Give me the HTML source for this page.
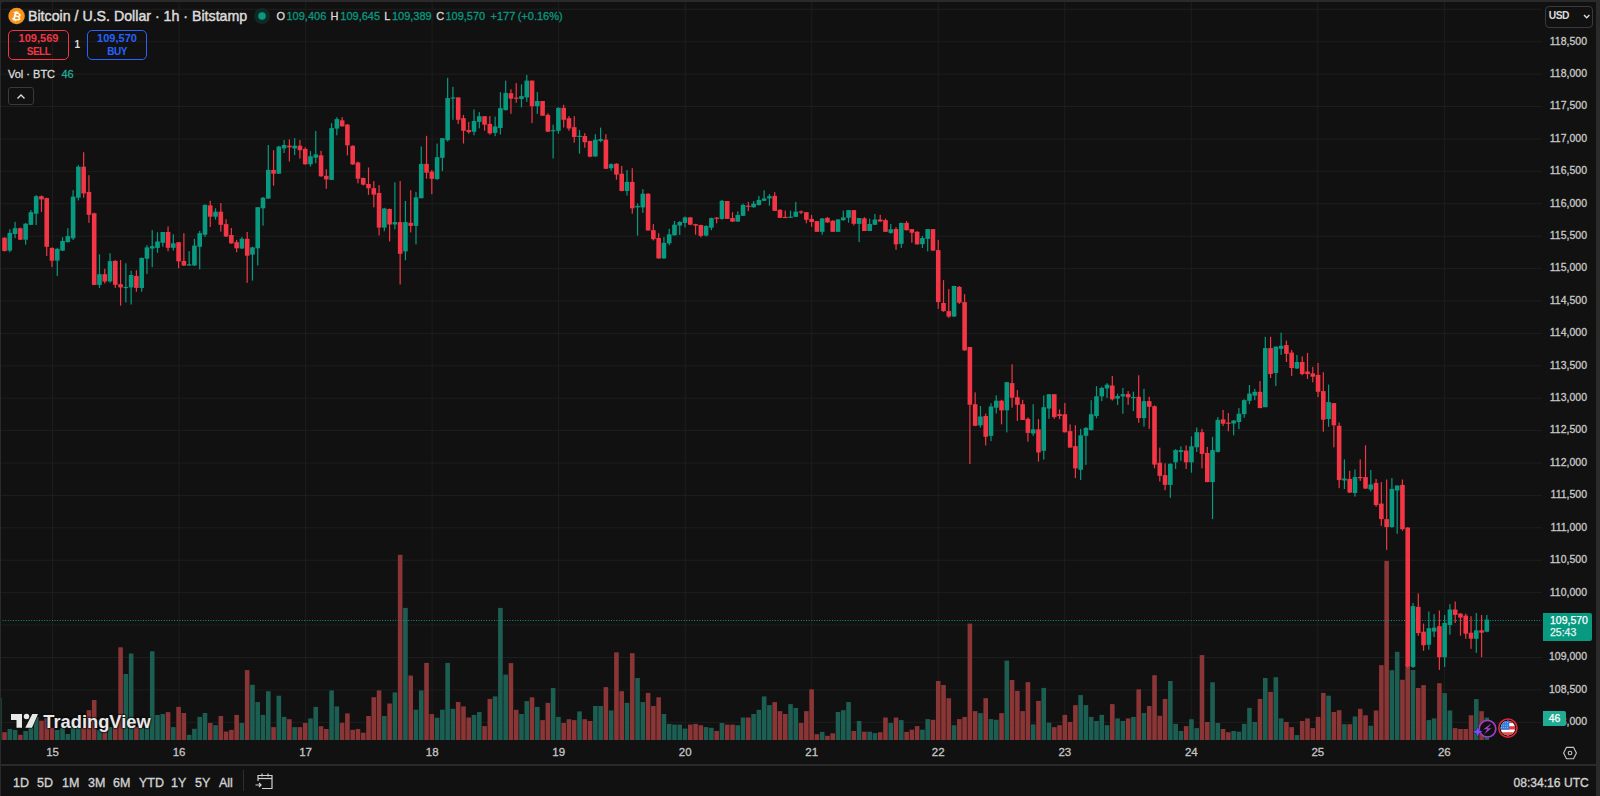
<!DOCTYPE html>
<html><head><meta charset="utf-8">
<style>
html,body{margin:0;padding:0;}
body{width:1600px;height:796px;overflow:hidden;background:#2a2a2a;position:relative;font-family:"Liberation Sans",Arial,sans-serif;}
#wrap{position:absolute;left:1px;top:2px;width:1595px;height:794px;background:#111111;border-radius:3px 3px 0 0;overflow:hidden;}
#chart{position:absolute;left:-1px;top:-2px;}
.abs{position:absolute;}
.pl{position:absolute;left:1545px;width:42px;text-align:right;font-size:10.5px;line-height:14px;color:#c8c8c8;-webkit-text-stroke:0.3px #c8c8c8;}
.tl{position:absolute;top:745.3px;-webkit-text-stroke:0.3px #c8c8c8;width:30px;text-align:center;font-size:11.5px;line-height:14px;color:#c3c3c3;}
#title{position:absolute;left:28px;top:7px;font-size:14.2px;line-height:18px;color:#dbdbdb;white-space:nowrap;-webkit-text-stroke:0.45px #dbdbdb;}
#ohlc{position:absolute;left:277px;top:9px;font-size:11px;line-height:14px;color:#dbdbdb;white-space:nowrap;letter-spacing:-0.15px;}
#ohlc .v{color:#089981;}
.tb{position:absolute;top:776px;font-size:12.5px;line-height:14px;color:#d1d1d1;-webkit-text-stroke:0.35px #d1d1d1;}
.o{position:absolute;top:9px;font-size:11px;line-height:14px;color:#dbdbdb;white-space:nowrap;-webkit-text-stroke:0.3px #dbdbdb;}
.o.v{color:#089981;-webkit-text-stroke:0.3px #089981;}
</style></head>
<body>
<div id="wrap"></div>
<svg id="chart" class="abs" width="1600" height="796" viewBox="0 0 1600 796" style="left:0;top:0">
<rect x="0" y="8.80" width="1542" height="1" fill="#1e1e1e"/>
<rect x="0" y="41.21" width="1542" height="1" fill="#1e1e1e"/>
<rect x="0" y="73.62" width="1542" height="1" fill="#1e1e1e"/>
<rect x="0" y="106.03" width="1542" height="1" fill="#1e1e1e"/>
<rect x="0" y="138.44" width="1542" height="1" fill="#1e1e1e"/>
<rect x="0" y="170.85" width="1542" height="1" fill="#1e1e1e"/>
<rect x="0" y="203.26" width="1542" height="1" fill="#1e1e1e"/>
<rect x="0" y="235.67" width="1542" height="1" fill="#1e1e1e"/>
<rect x="0" y="268.08" width="1542" height="1" fill="#1e1e1e"/>
<rect x="0" y="300.49" width="1542" height="1" fill="#1e1e1e"/>
<rect x="0" y="332.90" width="1542" height="1" fill="#1e1e1e"/>
<rect x="0" y="365.31" width="1542" height="1" fill="#1e1e1e"/>
<rect x="0" y="397.72" width="1542" height="1" fill="#1e1e1e"/>
<rect x="0" y="430.13" width="1542" height="1" fill="#1e1e1e"/>
<rect x="0" y="462.54" width="1542" height="1" fill="#1e1e1e"/>
<rect x="0" y="494.95" width="1542" height="1" fill="#1e1e1e"/>
<rect x="0" y="527.36" width="1542" height="1" fill="#1e1e1e"/>
<rect x="0" y="559.77" width="1542" height="1" fill="#1e1e1e"/>
<rect x="0" y="592.18" width="1542" height="1" fill="#1e1e1e"/>
<rect x="0" y="624.59" width="1542" height="1" fill="#1e1e1e"/>
<rect x="0" y="657.00" width="1542" height="1" fill="#1e1e1e"/>
<rect x="0" y="689.41" width="1542" height="1" fill="#1e1e1e"/>
<rect x="0" y="721.82" width="1542" height="1" fill="#1e1e1e"/>
<rect x="52.10" y="0" width="1" height="740" fill="#1e1e1e"/>
<rect x="178.62" y="0" width="1" height="740" fill="#1e1e1e"/>
<rect x="305.14" y="0" width="1" height="740" fill="#1e1e1e"/>
<rect x="431.66" y="0" width="1" height="740" fill="#1e1e1e"/>
<rect x="558.18" y="0" width="1" height="740" fill="#1e1e1e"/>
<rect x="684.70" y="0" width="1" height="740" fill="#1e1e1e"/>
<rect x="811.22" y="0" width="1" height="740" fill="#1e1e1e"/>
<rect x="937.74" y="0" width="1" height="740" fill="#1e1e1e"/>
<rect x="1064.26" y="0" width="1" height="740" fill="#1e1e1e"/>
<rect x="1190.78" y="0" width="1" height="740" fill="#1e1e1e"/>
<rect x="1317.30" y="0" width="1" height="740" fill="#1e1e1e"/>
<rect x="1443.82" y="0" width="1" height="740" fill="#1e1e1e"/>
<rect x="-3.05" y="698.0" width="4.6" height="42.0" fill="#1d5e53"/>
<rect x="2.22" y="732.2" width="4.6" height="7.8" fill="#8a3536"/>
<rect x="7.50" y="729.0" width="4.6" height="11.0" fill="#1d5e53"/>
<rect x="12.77" y="730.0" width="4.6" height="10.0" fill="#1d5e53"/>
<rect x="18.05" y="734.8" width="4.6" height="5.2" fill="#8a3536"/>
<rect x="23.32" y="731.0" width="4.6" height="9.0" fill="#1d5e53"/>
<rect x="28.60" y="728.0" width="4.6" height="12.0" fill="#1d5e53"/>
<rect x="33.87" y="717.0" width="4.6" height="23.0" fill="#1d5e53"/>
<rect x="39.15" y="720.7" width="4.6" height="19.3" fill="#8a3536"/>
<rect x="44.42" y="718.0" width="4.6" height="22.0" fill="#8a3536"/>
<rect x="49.70" y="728.0" width="4.6" height="12.0" fill="#8a3536"/>
<rect x="54.98" y="730.0" width="4.6" height="10.0" fill="#1d5e53"/>
<rect x="60.25" y="728.0" width="4.6" height="12.0" fill="#1d5e53"/>
<rect x="65.53" y="734.0" width="4.6" height="6.0" fill="#1d5e53"/>
<rect x="70.80" y="727.0" width="4.6" height="13.0" fill="#1d5e53"/>
<rect x="76.08" y="728.0" width="4.6" height="12.0" fill="#1d5e53"/>
<rect x="81.35" y="728.0" width="4.6" height="12.0" fill="#8a3536"/>
<rect x="86.63" y="710.2" width="4.6" height="29.8" fill="#8a3536"/>
<rect x="91.90" y="700.0" width="4.6" height="40.0" fill="#8a3536"/>
<rect x="97.18" y="730.0" width="4.6" height="10.0" fill="#1d5e53"/>
<rect x="102.45" y="731.6" width="4.6" height="8.4" fill="#8a3536"/>
<rect x="107.73" y="727.0" width="4.6" height="13.0" fill="#1d5e53"/>
<rect x="113.00" y="727.0" width="4.6" height="13.0" fill="#8a3536"/>
<rect x="118.28" y="647.3" width="4.6" height="92.7" fill="#8a3536"/>
<rect x="123.55" y="674.0" width="4.6" height="66.0" fill="#1d5e53"/>
<rect x="128.83" y="653.5" width="4.6" height="86.5" fill="#1d5e53"/>
<rect x="134.10" y="727.0" width="4.6" height="13.0" fill="#8a3536"/>
<rect x="139.38" y="728.0" width="4.6" height="12.0" fill="#1d5e53"/>
<rect x="144.65" y="728.0" width="4.6" height="12.0" fill="#1d5e53"/>
<rect x="149.93" y="651.3" width="4.6" height="88.7" fill="#1d5e53"/>
<rect x="155.20" y="715.0" width="4.6" height="25.0" fill="#1d5e53"/>
<rect x="160.48" y="714.0" width="4.6" height="26.0" fill="#1d5e53"/>
<rect x="165.75" y="712.1" width="4.6" height="27.9" fill="#8a3536"/>
<rect x="171.03" y="727.1" width="4.6" height="12.9" fill="#1d5e53"/>
<rect x="176.30" y="706.9" width="4.6" height="33.1" fill="#8a3536"/>
<rect x="181.58" y="713.0" width="4.6" height="27.0" fill="#8a3536"/>
<rect x="186.86" y="734.8" width="4.6" height="5.2" fill="#1d5e53"/>
<rect x="192.13" y="728.8" width="4.6" height="11.2" fill="#1d5e53"/>
<rect x="197.41" y="716.9" width="4.6" height="23.1" fill="#1d5e53"/>
<rect x="202.68" y="713.0" width="4.6" height="27.0" fill="#1d5e53"/>
<rect x="207.96" y="723.0" width="4.6" height="17.0" fill="#8a3536"/>
<rect x="213.23" y="725.2" width="4.6" height="14.8" fill="#1d5e53"/>
<rect x="218.51" y="716.0" width="4.6" height="24.0" fill="#8a3536"/>
<rect x="223.78" y="731.6" width="4.6" height="8.4" fill="#8a3536"/>
<rect x="229.06" y="729.9" width="4.6" height="10.1" fill="#8a3536"/>
<rect x="234.33" y="714.9" width="4.6" height="25.1" fill="#8a3536"/>
<rect x="239.61" y="723.0" width="4.6" height="17.0" fill="#1d5e53"/>
<rect x="244.88" y="670.1" width="4.6" height="69.9" fill="#8a3536"/>
<rect x="250.16" y="684.8" width="4.6" height="55.2" fill="#1d5e53"/>
<rect x="255.43" y="702.1" width="4.6" height="37.9" fill="#1d5e53"/>
<rect x="260.71" y="714.9" width="4.6" height="25.1" fill="#1d5e53"/>
<rect x="265.98" y="691.2" width="4.6" height="48.8" fill="#1d5e53"/>
<rect x="271.26" y="727.1" width="4.6" height="12.9" fill="#8a3536"/>
<rect x="276.53" y="695.7" width="4.6" height="44.3" fill="#1d5e53"/>
<rect x="281.81" y="716.9" width="4.6" height="23.1" fill="#1d5e53"/>
<rect x="287.08" y="719.2" width="4.6" height="20.8" fill="#8a3536"/>
<rect x="292.36" y="727.1" width="4.6" height="12.9" fill="#1d5e53"/>
<rect x="297.63" y="727.1" width="4.6" height="12.9" fill="#8a3536"/>
<rect x="302.91" y="723.0" width="4.6" height="17.0" fill="#8a3536"/>
<rect x="308.18" y="718.4" width="4.6" height="21.6" fill="#1d5e53"/>
<rect x="313.46" y="706.9" width="4.6" height="33.1" fill="#1d5e53"/>
<rect x="318.74" y="726.2" width="4.6" height="13.8" fill="#8a3536"/>
<rect x="324.01" y="729.0" width="4.6" height="11.0" fill="#8a3536"/>
<rect x="329.29" y="690.4" width="4.6" height="49.6" fill="#1d5e53"/>
<rect x="334.56" y="706.4" width="4.6" height="33.6" fill="#1d5e53"/>
<rect x="339.84" y="722.8" width="4.6" height="17.2" fill="#8a3536"/>
<rect x="345.11" y="713.4" width="4.6" height="26.6" fill="#8a3536"/>
<rect x="350.39" y="729.8" width="4.6" height="10.2" fill="#8a3536"/>
<rect x="355.66" y="729.0" width="4.6" height="11.0" fill="#8a3536"/>
<rect x="360.94" y="732.7" width="4.6" height="7.3" fill="#8a3536"/>
<rect x="366.21" y="716.0" width="4.6" height="24.0" fill="#8a3536"/>
<rect x="371.49" y="697.2" width="4.6" height="42.8" fill="#8a3536"/>
<rect x="376.76" y="690.4" width="4.6" height="49.6" fill="#8a3536"/>
<rect x="382.04" y="716.0" width="4.6" height="24.0" fill="#1d5e53"/>
<rect x="387.31" y="703.5" width="4.6" height="36.5" fill="#8a3536"/>
<rect x="392.59" y="692.4" width="4.6" height="47.6" fill="#1d5e53"/>
<rect x="397.86" y="554.8" width="4.6" height="185.2" fill="#8a3536"/>
<rect x="403.14" y="607.9" width="4.6" height="132.1" fill="#1d5e53"/>
<rect x="408.41" y="675.5" width="4.6" height="64.5" fill="#8a3536"/>
<rect x="413.69" y="709.7" width="4.6" height="30.3" fill="#1d5e53"/>
<rect x="418.96" y="690.4" width="4.6" height="49.6" fill="#1d5e53"/>
<rect x="424.24" y="662.9" width="4.6" height="77.1" fill="#8a3536"/>
<rect x="429.51" y="714.1" width="4.6" height="25.9" fill="#8a3536"/>
<rect x="434.79" y="717.7" width="4.6" height="22.3" fill="#1d5e53"/>
<rect x="440.06" y="709.7" width="4.6" height="30.3" fill="#1d5e53"/>
<rect x="445.34" y="662.9" width="4.6" height="77.1" fill="#1d5e53"/>
<rect x="450.62" y="708.8" width="4.6" height="31.2" fill="#1d5e53"/>
<rect x="455.89" y="702.0" width="4.6" height="38.0" fill="#8a3536"/>
<rect x="461.17" y="706.4" width="4.6" height="33.6" fill="#8a3536"/>
<rect x="466.44" y="717.5" width="4.6" height="22.5" fill="#8a3536"/>
<rect x="471.72" y="714.9" width="4.6" height="25.1" fill="#1d5e53"/>
<rect x="476.99" y="712.1" width="4.6" height="27.9" fill="#1d5e53"/>
<rect x="482.27" y="726.1" width="4.6" height="13.9" fill="#8a3536"/>
<rect x="487.54" y="698.9" width="4.6" height="41.1" fill="#8a3536"/>
<rect x="492.82" y="696.4" width="4.6" height="43.6" fill="#1d5e53"/>
<rect x="498.09" y="607.9" width="4.6" height="132.1" fill="#1d5e53"/>
<rect x="503.37" y="674.6" width="4.6" height="65.4" fill="#1d5e53"/>
<rect x="508.64" y="663.1" width="4.6" height="76.9" fill="#8a3536"/>
<rect x="513.92" y="709.8" width="4.6" height="30.2" fill="#8a3536"/>
<rect x="519.19" y="714.0" width="4.6" height="26.0" fill="#1d5e53"/>
<rect x="524.47" y="701.1" width="4.6" height="38.9" fill="#1d5e53"/>
<rect x="529.74" y="697.3" width="4.6" height="42.7" fill="#8a3536"/>
<rect x="535.02" y="706.9" width="4.6" height="33.1" fill="#1d5e53"/>
<rect x="540.29" y="720.1" width="4.6" height="19.9" fill="#8a3536"/>
<rect x="545.57" y="702.8" width="4.6" height="37.2" fill="#8a3536"/>
<rect x="550.84" y="688.0" width="4.6" height="52.0" fill="#1d5e53"/>
<rect x="556.12" y="716.9" width="4.6" height="23.1" fill="#1d5e53"/>
<rect x="561.39" y="723.0" width="4.6" height="17.0" fill="#8a3536"/>
<rect x="566.67" y="719.2" width="4.6" height="20.8" fill="#8a3536"/>
<rect x="571.94" y="720.1" width="4.6" height="19.9" fill="#8a3536"/>
<rect x="577.22" y="711.4" width="4.6" height="28.6" fill="#1d5e53"/>
<rect x="582.50" y="719.2" width="4.6" height="20.8" fill="#8a3536"/>
<rect x="587.77" y="721.0" width="4.6" height="19.0" fill="#8a3536"/>
<rect x="593.05" y="706.0" width="4.6" height="34.0" fill="#1d5e53"/>
<rect x="598.32" y="706.0" width="4.6" height="34.0" fill="#1d5e53"/>
<rect x="603.60" y="687.1" width="4.6" height="52.9" fill="#8a3536"/>
<rect x="608.87" y="710.5" width="4.6" height="29.5" fill="#1d5e53"/>
<rect x="614.15" y="652.4" width="4.6" height="87.6" fill="#8a3536"/>
<rect x="619.42" y="691.2" width="4.6" height="48.8" fill="#8a3536"/>
<rect x="624.70" y="702.8" width="4.6" height="37.2" fill="#1d5e53"/>
<rect x="629.97" y="653.2" width="4.6" height="86.8" fill="#8a3536"/>
<rect x="635.25" y="678.0" width="4.6" height="62.0" fill="#1d5e53"/>
<rect x="640.52" y="702.1" width="4.6" height="37.9" fill="#1d5e53"/>
<rect x="645.80" y="692.9" width="4.6" height="47.1" fill="#8a3536"/>
<rect x="651.07" y="706.0" width="4.6" height="34.0" fill="#8a3536"/>
<rect x="656.35" y="697.3" width="4.6" height="42.7" fill="#8a3536"/>
<rect x="661.62" y="714.0" width="4.6" height="26.0" fill="#1d5e53"/>
<rect x="666.90" y="723.9" width="4.6" height="16.1" fill="#1d5e53"/>
<rect x="672.17" y="724.6" width="4.6" height="15.4" fill="#1d5e53"/>
<rect x="677.45" y="724.6" width="4.6" height="15.4" fill="#1d5e53"/>
<rect x="682.72" y="728.6" width="4.6" height="11.4" fill="#1d5e53"/>
<rect x="688.00" y="724.6" width="4.6" height="15.4" fill="#8a3536"/>
<rect x="693.27" y="723.9" width="4.6" height="16.1" fill="#8a3536"/>
<rect x="698.55" y="725.2" width="4.6" height="14.8" fill="#8a3536"/>
<rect x="703.82" y="727.1" width="4.6" height="12.9" fill="#1d5e53"/>
<rect x="709.10" y="727.8" width="4.6" height="12.2" fill="#1d5e53"/>
<rect x="714.38" y="731.0" width="4.6" height="9.0" fill="#8a3536"/>
<rect x="719.65" y="723.0" width="4.6" height="17.0" fill="#1d5e53"/>
<rect x="724.93" y="724.6" width="4.6" height="15.4" fill="#8a3536"/>
<rect x="730.20" y="724.6" width="4.6" height="15.4" fill="#8a3536"/>
<rect x="735.48" y="725.2" width="4.6" height="14.8" fill="#1d5e53"/>
<rect x="740.75" y="717.5" width="4.6" height="22.5" fill="#1d5e53"/>
<rect x="746.03" y="717.5" width="4.6" height="22.5" fill="#8a3536"/>
<rect x="751.30" y="714.0" width="4.6" height="26.0" fill="#1d5e53"/>
<rect x="756.58" y="709.8" width="4.6" height="30.2" fill="#1d5e53"/>
<rect x="761.85" y="696.4" width="4.6" height="43.6" fill="#1d5e53"/>
<rect x="767.13" y="705.1" width="4.6" height="34.9" fill="#1d5e53"/>
<rect x="772.40" y="702.1" width="4.6" height="37.9" fill="#8a3536"/>
<rect x="777.68" y="711.1" width="4.6" height="28.9" fill="#8a3536"/>
<rect x="782.95" y="714.0" width="4.6" height="26.0" fill="#8a3536"/>
<rect x="788.23" y="704.1" width="4.6" height="35.9" fill="#1d5e53"/>
<rect x="793.50" y="707.9" width="4.6" height="32.1" fill="#1d5e53"/>
<rect x="798.78" y="723.0" width="4.6" height="17.0" fill="#8a3536"/>
<rect x="804.05" y="711.1" width="4.6" height="28.9" fill="#8a3536"/>
<rect x="809.33" y="689.3" width="4.6" height="50.7" fill="#8a3536"/>
<rect x="814.60" y="734.2" width="4.6" height="5.8" fill="#8a3536"/>
<rect x="819.88" y="731.9" width="4.6" height="8.1" fill="#1d5e53"/>
<rect x="825.15" y="735.8" width="4.6" height="4.2" fill="#8a3536"/>
<rect x="830.43" y="733.3" width="4.6" height="6.7" fill="#8a3536"/>
<rect x="835.70" y="712.0" width="4.6" height="28.0" fill="#1d5e53"/>
<rect x="840.98" y="710.2" width="4.6" height="29.8" fill="#1d5e53"/>
<rect x="846.26" y="702.1" width="4.6" height="37.9" fill="#1d5e53"/>
<rect x="851.53" y="731.0" width="4.6" height="9.0" fill="#8a3536"/>
<rect x="856.81" y="721.0" width="4.6" height="19.0" fill="#1d5e53"/>
<rect x="862.08" y="731.7" width="4.6" height="8.3" fill="#8a3536"/>
<rect x="867.36" y="731.7" width="4.6" height="8.3" fill="#1d5e53"/>
<rect x="872.63" y="733.1" width="4.6" height="6.9" fill="#1d5e53"/>
<rect x="877.91" y="732.2" width="4.6" height="7.8" fill="#8a3536"/>
<rect x="883.18" y="717.5" width="4.6" height="22.5" fill="#8a3536"/>
<rect x="888.46" y="723.0" width="4.6" height="17.0" fill="#1d5e53"/>
<rect x="893.73" y="717.5" width="4.6" height="22.5" fill="#8a3536"/>
<rect x="899.01" y="720.1" width="4.6" height="19.9" fill="#1d5e53"/>
<rect x="904.28" y="731.9" width="4.6" height="8.1" fill="#8a3536"/>
<rect x="909.56" y="729.7" width="4.6" height="10.3" fill="#8a3536"/>
<rect x="914.83" y="726.1" width="4.6" height="13.9" fill="#8a3536"/>
<rect x="920.11" y="729.7" width="4.6" height="10.3" fill="#1d5e53"/>
<rect x="925.38" y="719.1" width="4.6" height="20.9" fill="#1d5e53"/>
<rect x="930.66" y="719.8" width="4.6" height="20.2" fill="#8a3536"/>
<rect x="935.93" y="681.0" width="4.6" height="59.0" fill="#8a3536"/>
<rect x="941.21" y="685.0" width="4.6" height="55.0" fill="#8a3536"/>
<rect x="946.48" y="698.2" width="4.6" height="41.8" fill="#8a3536"/>
<rect x="951.76" y="725.2" width="4.6" height="14.8" fill="#1d5e53"/>
<rect x="957.03" y="719.1" width="4.6" height="20.9" fill="#8a3536"/>
<rect x="962.31" y="717.0" width="4.6" height="23.0" fill="#8a3536"/>
<rect x="967.58" y="623.6" width="4.6" height="116.4" fill="#8a3536"/>
<rect x="972.86" y="711.1" width="4.6" height="28.9" fill="#8a3536"/>
<rect x="978.14" y="713.1" width="4.6" height="26.9" fill="#1d5e53"/>
<rect x="983.41" y="698.2" width="4.6" height="41.8" fill="#8a3536"/>
<rect x="988.69" y="719.1" width="4.6" height="20.9" fill="#1d5e53"/>
<rect x="993.96" y="719.8" width="4.6" height="20.2" fill="#1d5e53"/>
<rect x="999.24" y="713.1" width="4.6" height="26.9" fill="#8a3536"/>
<rect x="1004.51" y="660.6" width="4.6" height="79.4" fill="#1d5e53"/>
<rect x="1009.79" y="680.0" width="4.6" height="60.0" fill="#8a3536"/>
<rect x="1015.06" y="690.9" width="4.6" height="49.1" fill="#8a3536"/>
<rect x="1020.34" y="711.1" width="4.6" height="28.9" fill="#8a3536"/>
<rect x="1025.61" y="682.1" width="4.6" height="57.9" fill="#8a3536"/>
<rect x="1030.89" y="724.4" width="4.6" height="15.6" fill="#1d5e53"/>
<rect x="1036.16" y="700.9" width="4.6" height="39.1" fill="#8a3536"/>
<rect x="1041.44" y="687.9" width="4.6" height="52.1" fill="#1d5e53"/>
<rect x="1046.71" y="722.7" width="4.6" height="17.3" fill="#1d5e53"/>
<rect x="1051.99" y="727.1" width="4.6" height="12.9" fill="#8a3536"/>
<rect x="1057.26" y="725.2" width="4.6" height="14.8" fill="#8a3536"/>
<rect x="1062.54" y="714.9" width="4.6" height="25.1" fill="#8a3536"/>
<rect x="1067.81" y="722.0" width="4.6" height="18.0" fill="#8a3536"/>
<rect x="1073.09" y="705.1" width="4.6" height="34.9" fill="#8a3536"/>
<rect x="1078.36" y="695.1" width="4.6" height="44.9" fill="#1d5e53"/>
<rect x="1083.64" y="705.1" width="4.6" height="34.9" fill="#1d5e53"/>
<rect x="1088.91" y="716.9" width="4.6" height="23.1" fill="#1d5e53"/>
<rect x="1094.19" y="721.0" width="4.6" height="19.0" fill="#1d5e53"/>
<rect x="1099.46" y="714.9" width="4.6" height="25.1" fill="#1d5e53"/>
<rect x="1104.74" y="725.2" width="4.6" height="14.8" fill="#1d5e53"/>
<rect x="1110.02" y="704.1" width="4.6" height="35.9" fill="#8a3536"/>
<rect x="1115.29" y="718.4" width="4.6" height="21.6" fill="#1d5e53"/>
<rect x="1120.57" y="721.0" width="4.6" height="19.0" fill="#1d5e53"/>
<rect x="1125.84" y="718.4" width="4.6" height="21.6" fill="#8a3536"/>
<rect x="1131.12" y="716.9" width="4.6" height="23.1" fill="#1d5e53"/>
<rect x="1136.39" y="689.3" width="4.6" height="50.7" fill="#8a3536"/>
<rect x="1141.67" y="713.0" width="4.6" height="27.0" fill="#1d5e53"/>
<rect x="1146.94" y="706.0" width="4.6" height="34.0" fill="#8a3536"/>
<rect x="1152.22" y="675.2" width="4.6" height="64.8" fill="#8a3536"/>
<rect x="1157.49" y="715.8" width="4.6" height="24.2" fill="#8a3536"/>
<rect x="1162.77" y="698.9" width="4.6" height="41.1" fill="#8a3536"/>
<rect x="1168.04" y="681.0" width="4.6" height="59.0" fill="#1d5e53"/>
<rect x="1173.32" y="723.9" width="4.6" height="16.1" fill="#1d5e53"/>
<rect x="1178.59" y="731.0" width="4.6" height="9.0" fill="#1d5e53"/>
<rect x="1183.87" y="726.1" width="4.6" height="13.9" fill="#8a3536"/>
<rect x="1189.14" y="719.2" width="4.6" height="20.8" fill="#1d5e53"/>
<rect x="1194.42" y="728.1" width="4.6" height="11.9" fill="#1d5e53"/>
<rect x="1199.69" y="655.1" width="4.6" height="84.9" fill="#8a3536"/>
<rect x="1204.97" y="722.0" width="4.6" height="18.0" fill="#8a3536"/>
<rect x="1210.24" y="682.3" width="4.6" height="57.7" fill="#1d5e53"/>
<rect x="1215.52" y="723.0" width="4.6" height="17.0" fill="#1d5e53"/>
<rect x="1220.79" y="729.0" width="4.6" height="11.0" fill="#8a3536"/>
<rect x="1226.07" y="732.2" width="4.6" height="7.8" fill="#8a3536"/>
<rect x="1231.34" y="731.0" width="4.6" height="9.0" fill="#1d5e53"/>
<rect x="1236.62" y="731.7" width="4.6" height="8.3" fill="#1d5e53"/>
<rect x="1241.90" y="723.9" width="4.6" height="16.1" fill="#1d5e53"/>
<rect x="1247.17" y="707.9" width="4.6" height="32.1" fill="#1d5e53"/>
<rect x="1252.45" y="722.0" width="4.6" height="18.0" fill="#1d5e53"/>
<rect x="1257.72" y="698.9" width="4.6" height="41.1" fill="#8a3536"/>
<rect x="1263.00" y="678.0" width="4.6" height="62.0" fill="#1d5e53"/>
<rect x="1268.27" y="691.9" width="4.6" height="48.1" fill="#8a3536"/>
<rect x="1273.55" y="677.2" width="4.6" height="62.8" fill="#1d5e53"/>
<rect x="1278.82" y="718.4" width="4.6" height="21.6" fill="#1d5e53"/>
<rect x="1284.10" y="722.0" width="4.6" height="18.0" fill="#8a3536"/>
<rect x="1289.37" y="727.1" width="4.6" height="12.9" fill="#8a3536"/>
<rect x="1294.65" y="735.1" width="4.6" height="4.9" fill="#1d5e53"/>
<rect x="1299.92" y="721.0" width="4.6" height="19.0" fill="#8a3536"/>
<rect x="1305.20" y="718.4" width="4.6" height="21.6" fill="#8a3536"/>
<rect x="1310.47" y="728.1" width="4.6" height="11.9" fill="#8a3536"/>
<rect x="1315.75" y="716.9" width="4.6" height="23.1" fill="#8a3536"/>
<rect x="1321.02" y="692.9" width="4.6" height="47.1" fill="#8a3536"/>
<rect x="1326.30" y="695.7" width="4.6" height="44.3" fill="#1d5e53"/>
<rect x="1331.57" y="712.0" width="4.6" height="28.0" fill="#8a3536"/>
<rect x="1336.85" y="710.2" width="4.6" height="29.8" fill="#8a3536"/>
<rect x="1342.12" y="724.2" width="4.6" height="15.8" fill="#1d5e53"/>
<rect x="1347.40" y="724.2" width="4.6" height="15.8" fill="#8a3536"/>
<rect x="1352.67" y="716.5" width="4.6" height="23.5" fill="#1d5e53"/>
<rect x="1357.95" y="708.8" width="4.6" height="31.2" fill="#8a3536"/>
<rect x="1363.22" y="715.3" width="4.6" height="24.7" fill="#8a3536"/>
<rect x="1368.50" y="725.7" width="4.6" height="14.3" fill="#1d5e53"/>
<rect x="1373.78" y="710.5" width="4.6" height="29.5" fill="#8a3536"/>
<rect x="1379.05" y="665.1" width="4.6" height="74.9" fill="#8a3536"/>
<rect x="1384.33" y="560.9" width="4.6" height="179.1" fill="#8a3536"/>
<rect x="1389.60" y="670.2" width="4.6" height="69.8" fill="#1d5e53"/>
<rect x="1394.88" y="651.8" width="4.6" height="88.2" fill="#1d5e53"/>
<rect x="1400.15" y="679.8" width="4.6" height="60.2" fill="#8a3536"/>
<rect x="1405.43" y="664.0" width="4.6" height="76.0" fill="#8a3536"/>
<rect x="1410.70" y="670.0" width="4.6" height="70.0" fill="#1d5e53"/>
<rect x="1415.98" y="688.0" width="4.6" height="52.0" fill="#8a3536"/>
<rect x="1421.25" y="685.1" width="4.6" height="54.9" fill="#8a3536"/>
<rect x="1426.53" y="720.1" width="4.6" height="19.9" fill="#1d5e53"/>
<rect x="1431.80" y="718.4" width="4.6" height="21.6" fill="#1d5e53"/>
<rect x="1437.08" y="683.2" width="4.6" height="56.8" fill="#8a3536"/>
<rect x="1442.35" y="693.1" width="4.6" height="46.9" fill="#1d5e53"/>
<rect x="1447.63" y="710.5" width="4.6" height="29.5" fill="#1d5e53"/>
<rect x="1452.90" y="728.1" width="4.6" height="11.9" fill="#8a3536"/>
<rect x="1458.18" y="729.0" width="4.6" height="11.0" fill="#8a3536"/>
<rect x="1463.45" y="729.0" width="4.6" height="11.0" fill="#8a3536"/>
<rect x="1468.73" y="715.3" width="4.6" height="24.7" fill="#8a3536"/>
<rect x="1474.00" y="699.1" width="4.6" height="40.9" fill="#1d5e53"/>
<rect x="1479.28" y="711.2" width="4.6" height="28.8" fill="#8a3536"/>
<rect x="1484.55" y="717.5" width="4.6" height="22.5" fill="#1d5e53"/>
<line x1="0" y1="620.5" x2="1542" y2="620.5" stroke="#089981" stroke-width="1" stroke-dasharray="1 1.6"/>
<rect x="3.92" y="237.2" width="1.2" height="14.3" fill="#f23645"/>
<rect x="2.22" y="237.8" width="4.6" height="13.2" fill="#f23645"/>
<rect x="9.20" y="229.3" width="1.2" height="22.9" fill="#089981"/>
<rect x="7.50" y="232.9" width="4.6" height="17.7" fill="#089981"/>
<rect x="14.47" y="221.8" width="1.2" height="16.4" fill="#089981"/>
<rect x="12.77" y="228.2" width="4.6" height="5.8" fill="#089981"/>
<rect x="19.75" y="227.6" width="1.2" height="12.4" fill="#f23645"/>
<rect x="18.05" y="228.2" width="4.6" height="11.5" fill="#f23645"/>
<rect x="25.02" y="222.9" width="1.2" height="21.8" fill="#089981"/>
<rect x="23.32" y="223.7" width="4.6" height="16.0" fill="#089981"/>
<rect x="30.30" y="210.1" width="1.2" height="15.0" fill="#089981"/>
<rect x="28.60" y="212.2" width="4.6" height="12.6" fill="#089981"/>
<rect x="35.57" y="195.1" width="1.2" height="29.9" fill="#089981"/>
<rect x="33.87" y="196.2" width="4.6" height="17.5" fill="#089981"/>
<rect x="40.85" y="195.5" width="1.2" height="16.4" fill="#f23645"/>
<rect x="39.15" y="196.2" width="4.6" height="3.2" fill="#f23645"/>
<rect x="46.12" y="197.7" width="1.2" height="58.3" fill="#f23645"/>
<rect x="44.42" y="198.1" width="4.6" height="48.7" fill="#f23645"/>
<rect x="51.40" y="247.4" width="1.2" height="19.7" fill="#f23645"/>
<rect x="49.70" y="247.9" width="4.6" height="12.8" fill="#f23645"/>
<rect x="56.68" y="247.9" width="1.2" height="28.2" fill="#089981"/>
<rect x="54.98" y="248.9" width="4.6" height="11.7" fill="#089981"/>
<rect x="61.95" y="237.2" width="1.2" height="13.9" fill="#089981"/>
<rect x="60.25" y="241.0" width="4.6" height="9.6" fill="#089981"/>
<rect x="67.23" y="228.2" width="1.2" height="14.3" fill="#089981"/>
<rect x="65.53" y="236.1" width="4.6" height="6.0" fill="#089981"/>
<rect x="72.50" y="190.2" width="1.2" height="49.8" fill="#089981"/>
<rect x="70.80" y="196.6" width="4.6" height="41.7" fill="#089981"/>
<rect x="77.78" y="165.2" width="1.2" height="35.2" fill="#089981"/>
<rect x="76.08" y="166.7" width="4.6" height="31.0" fill="#089981"/>
<rect x="83.05" y="152.2" width="1.2" height="45.5" fill="#f23645"/>
<rect x="81.35" y="166.7" width="4.6" height="26.7" fill="#f23645"/>
<rect x="88.33" y="175.2" width="1.2" height="47.6" fill="#f23645"/>
<rect x="86.63" y="191.9" width="4.6" height="22.9" fill="#f23645"/>
<rect x="93.60" y="212.6" width="1.2" height="72.6" fill="#f23645"/>
<rect x="91.90" y="213.3" width="4.6" height="71.6" fill="#f23645"/>
<rect x="98.88" y="254.3" width="1.2" height="33.8" fill="#089981"/>
<rect x="97.18" y="274.2" width="4.6" height="10.7" fill="#089981"/>
<rect x="104.15" y="268.8" width="1.2" height="14.7" fill="#f23645"/>
<rect x="102.45" y="274.2" width="4.6" height="7.3" fill="#f23645"/>
<rect x="109.43" y="253.2" width="1.2" height="29.5" fill="#089981"/>
<rect x="107.73" y="261.1" width="4.6" height="20.3" fill="#089981"/>
<rect x="114.70" y="260.1" width="1.2" height="27.8" fill="#f23645"/>
<rect x="113.00" y="260.9" width="4.6" height="23.9" fill="#f23645"/>
<rect x="119.98" y="260.1" width="1.2" height="45.5" fill="#f23645"/>
<rect x="118.28" y="284.2" width="4.6" height="3.2" fill="#f23645"/>
<rect x="125.25" y="263.3" width="1.2" height="39.1" fill="#089981"/>
<rect x="123.55" y="286.9" width="4.6" height="1.2" fill="#089981"/>
<rect x="130.53" y="270.7" width="1.2" height="33.8" fill="#089981"/>
<rect x="128.83" y="275.0" width="4.6" height="12.4" fill="#089981"/>
<rect x="135.80" y="270.3" width="1.2" height="21.4" fill="#f23645"/>
<rect x="134.10" y="275.9" width="4.6" height="12.0" fill="#f23645"/>
<rect x="141.08" y="257.5" width="1.2" height="34.2" fill="#089981"/>
<rect x="139.38" y="257.9" width="4.6" height="30.1" fill="#089981"/>
<rect x="146.35" y="245.1" width="1.2" height="28.8" fill="#089981"/>
<rect x="144.65" y="247.4" width="4.6" height="11.3" fill="#089981"/>
<rect x="151.63" y="230.1" width="1.2" height="37.0" fill="#089981"/>
<rect x="149.93" y="246.2" width="4.6" height="2.3" fill="#089981"/>
<rect x="156.90" y="232.3" width="1.2" height="20.5" fill="#089981"/>
<rect x="155.20" y="241.5" width="4.6" height="6.4" fill="#089981"/>
<rect x="162.18" y="232.0" width="1.2" height="14.7" fill="#089981"/>
<rect x="160.48" y="232.0" width="4.6" height="10.8" fill="#089981"/>
<rect x="167.45" y="226.4" width="1.2" height="24.9" fill="#f23645"/>
<rect x="165.75" y="232.0" width="4.6" height="15.8" fill="#f23645"/>
<rect x="172.73" y="234.3" width="1.2" height="16.3" fill="#089981"/>
<rect x="171.03" y="243.3" width="4.6" height="4.5" fill="#089981"/>
<rect x="178.00" y="242.2" width="1.2" height="26.0" fill="#f23645"/>
<rect x="176.30" y="242.2" width="4.6" height="19.2" fill="#f23645"/>
<rect x="183.28" y="233.2" width="1.2" height="32.8" fill="#f23645"/>
<rect x="181.58" y="261.0" width="4.6" height="4.5" fill="#f23645"/>
<rect x="188.56" y="251.2" width="1.2" height="14.7" fill="#089981"/>
<rect x="186.86" y="264.3" width="4.6" height="1.2" fill="#089981"/>
<rect x="193.83" y="238.8" width="1.2" height="27.1" fill="#089981"/>
<rect x="192.13" y="245.6" width="4.6" height="19.9" fill="#089981"/>
<rect x="199.11" y="230.9" width="1.2" height="38.4" fill="#089981"/>
<rect x="197.41" y="233.2" width="4.6" height="13.6" fill="#089981"/>
<rect x="204.38" y="204.5" width="1.2" height="32.5" fill="#089981"/>
<rect x="202.68" y="204.9" width="4.6" height="29.8" fill="#089981"/>
<rect x="209.66" y="200.8" width="1.2" height="26.2" fill="#f23645"/>
<rect x="207.96" y="205.4" width="4.6" height="11.3" fill="#f23645"/>
<rect x="214.93" y="208.3" width="1.2" height="11.3" fill="#089981"/>
<rect x="213.23" y="211.7" width="4.6" height="5.0" fill="#089981"/>
<rect x="220.21" y="203.1" width="1.2" height="28.5" fill="#f23645"/>
<rect x="218.51" y="211.7" width="4.6" height="13.1" fill="#f23645"/>
<rect x="225.48" y="219.2" width="1.2" height="17.9" fill="#f23645"/>
<rect x="223.78" y="224.1" width="4.6" height="12.4" fill="#f23645"/>
<rect x="230.76" y="228.0" width="1.2" height="15.8" fill="#f23645"/>
<rect x="229.06" y="235.0" width="4.6" height="8.4" fill="#f23645"/>
<rect x="236.03" y="239.9" width="1.2" height="12.4" fill="#f23645"/>
<rect x="234.33" y="242.2" width="4.6" height="6.1" fill="#f23645"/>
<rect x="241.31" y="237.0" width="1.2" height="12.0" fill="#089981"/>
<rect x="239.61" y="238.8" width="4.6" height="9.7" fill="#089981"/>
<rect x="246.58" y="232.0" width="1.2" height="50.8" fill="#f23645"/>
<rect x="244.88" y="238.8" width="4.6" height="16.9" fill="#f23645"/>
<rect x="251.86" y="246.7" width="1.2" height="33.9" fill="#089981"/>
<rect x="250.16" y="247.4" width="4.6" height="7.2" fill="#089981"/>
<rect x="257.13" y="207.2" width="1.2" height="58.3" fill="#089981"/>
<rect x="255.43" y="207.2" width="4.6" height="41.1" fill="#089981"/>
<rect x="262.41" y="197.0" width="1.2" height="28.7" fill="#089981"/>
<rect x="260.71" y="197.7" width="4.6" height="10.6" fill="#089981"/>
<rect x="267.68" y="145.0" width="1.2" height="53.6" fill="#089981"/>
<rect x="265.98" y="169.9" width="4.6" height="28.7" fill="#089981"/>
<rect x="272.96" y="150.2" width="1.2" height="35.5" fill="#f23645"/>
<rect x="271.26" y="169.9" width="4.6" height="3.8" fill="#f23645"/>
<rect x="278.23" y="145.7" width="1.2" height="28.0" fill="#089981"/>
<rect x="276.53" y="146.6" width="4.6" height="27.1" fill="#089981"/>
<rect x="283.51" y="140.1" width="1.2" height="12.9" fill="#089981"/>
<rect x="281.81" y="145.0" width="4.6" height="3.4" fill="#089981"/>
<rect x="288.78" y="139.4" width="1.2" height="22.1" fill="#f23645"/>
<rect x="287.08" y="145.7" width="4.6" height="1.6" fill="#f23645"/>
<rect x="294.06" y="138.2" width="1.2" height="16.9" fill="#089981"/>
<rect x="292.36" y="145.7" width="4.6" height="2.7" fill="#089981"/>
<rect x="299.33" y="140.1" width="1.2" height="18.5" fill="#f23645"/>
<rect x="297.63" y="145.7" width="4.6" height="4.5" fill="#f23645"/>
<rect x="304.61" y="147.3" width="1.2" height="17.4" fill="#f23645"/>
<rect x="302.91" y="148.9" width="4.6" height="15.4" fill="#f23645"/>
<rect x="309.88" y="151.1" width="1.2" height="15.4" fill="#089981"/>
<rect x="308.18" y="156.3" width="4.6" height="7.9" fill="#089981"/>
<rect x="315.16" y="131.0" width="1.2" height="32.2" fill="#089981"/>
<rect x="313.46" y="154.4" width="4.6" height="3.3" fill="#089981"/>
<rect x="320.44" y="150.8" width="1.2" height="26.0" fill="#f23645"/>
<rect x="318.74" y="155.3" width="4.6" height="21.0" fill="#f23645"/>
<rect x="325.71" y="169.2" width="1.2" height="19.6" fill="#f23645"/>
<rect x="324.01" y="175.8" width="4.6" height="3.6" fill="#f23645"/>
<rect x="330.99" y="123.1" width="1.2" height="56.8" fill="#089981"/>
<rect x="329.29" y="128.1" width="4.6" height="51.8" fill="#089981"/>
<rect x="336.26" y="117.2" width="1.2" height="18.1" fill="#089981"/>
<rect x="334.56" y="119.1" width="4.6" height="9.5" fill="#089981"/>
<rect x="341.54" y="117.2" width="1.2" height="9.5" fill="#f23645"/>
<rect x="339.84" y="120.3" width="4.6" height="6.0" fill="#f23645"/>
<rect x="346.81" y="123.9" width="1.2" height="31.5" fill="#f23645"/>
<rect x="345.11" y="124.6" width="4.6" height="20.7" fill="#f23645"/>
<rect x="352.09" y="145.3" width="1.2" height="19.6" fill="#f23645"/>
<rect x="350.39" y="145.8" width="4.6" height="18.6" fill="#f23645"/>
<rect x="357.36" y="161.5" width="1.2" height="21.9" fill="#f23645"/>
<rect x="355.66" y="162.5" width="4.6" height="16.2" fill="#f23645"/>
<rect x="362.64" y="177.5" width="1.2" height="7.9" fill="#f23645"/>
<rect x="360.94" y="178.0" width="4.6" height="6.7" fill="#f23645"/>
<rect x="367.91" y="167.5" width="1.2" height="27.4" fill="#f23645"/>
<rect x="366.21" y="184.0" width="4.6" height="4.3" fill="#f23645"/>
<rect x="373.19" y="181.1" width="1.2" height="26.2" fill="#f23645"/>
<rect x="371.49" y="188.2" width="4.6" height="6.4" fill="#f23645"/>
<rect x="378.46" y="185.1" width="1.2" height="50.3" fill="#f23645"/>
<rect x="376.76" y="193.0" width="4.6" height="34.6" fill="#f23645"/>
<rect x="383.74" y="207.8" width="1.2" height="23.4" fill="#089981"/>
<rect x="382.04" y="208.5" width="4.6" height="19.1" fill="#089981"/>
<rect x="389.01" y="208.5" width="1.2" height="32.9" fill="#f23645"/>
<rect x="387.31" y="209.0" width="4.6" height="15.5" fill="#f23645"/>
<rect x="394.29" y="182.3" width="1.2" height="47.0" fill="#089981"/>
<rect x="392.59" y="222.1" width="4.6" height="2.4" fill="#089981"/>
<rect x="399.56" y="181.1" width="1.2" height="103.3" fill="#f23645"/>
<rect x="397.86" y="222.1" width="4.6" height="31.7" fill="#f23645"/>
<rect x="404.84" y="200.9" width="1.2" height="59.4" fill="#089981"/>
<rect x="403.14" y="222.1" width="4.6" height="29.3" fill="#089981"/>
<rect x="410.11" y="190.2" width="1.2" height="42.2" fill="#f23645"/>
<rect x="408.41" y="222.8" width="4.6" height="3.1" fill="#f23645"/>
<rect x="415.39" y="191.8" width="1.2" height="52.5" fill="#089981"/>
<rect x="413.69" y="197.3" width="4.6" height="28.6" fill="#089981"/>
<rect x="420.66" y="146.5" width="1.2" height="51.8" fill="#089981"/>
<rect x="418.96" y="163.9" width="4.6" height="34.3" fill="#089981"/>
<rect x="425.94" y="135.8" width="1.2" height="42.9" fill="#f23645"/>
<rect x="424.24" y="163.9" width="4.6" height="8.8" fill="#f23645"/>
<rect x="431.21" y="169.9" width="1.2" height="24.3" fill="#f23645"/>
<rect x="429.51" y="171.6" width="4.6" height="7.2" fill="#f23645"/>
<rect x="436.49" y="143.6" width="1.2" height="36.3" fill="#089981"/>
<rect x="434.79" y="157.2" width="4.6" height="21.9" fill="#089981"/>
<rect x="441.76" y="138.2" width="1.2" height="32.9" fill="#089981"/>
<rect x="440.06" y="138.2" width="4.6" height="19.6" fill="#089981"/>
<rect x="447.04" y="77.8" width="1.2" height="63.7" fill="#089981"/>
<rect x="445.34" y="98.1" width="4.6" height="42.1" fill="#089981"/>
<rect x="452.32" y="86.8" width="1.2" height="33.0" fill="#089981"/>
<rect x="450.62" y="97.4" width="4.6" height="1.2" fill="#089981"/>
<rect x="457.59" y="97.4" width="1.2" height="26.5" fill="#f23645"/>
<rect x="455.89" y="97.4" width="4.6" height="22.4" fill="#f23645"/>
<rect x="462.87" y="114.9" width="1.2" height="28.6" fill="#f23645"/>
<rect x="461.17" y="118.2" width="4.6" height="12.6" fill="#f23645"/>
<rect x="468.14" y="121.9" width="1.2" height="11.8" fill="#f23645"/>
<rect x="466.44" y="130.1" width="4.6" height="2.0" fill="#f23645"/>
<rect x="473.42" y="109.5" width="1.2" height="25.8" fill="#089981"/>
<rect x="471.72" y="121.0" width="4.6" height="10.8" fill="#089981"/>
<rect x="478.69" y="112.1" width="1.2" height="16.3" fill="#089981"/>
<rect x="476.99" y="116.2" width="4.6" height="5.7" fill="#089981"/>
<rect x="483.97" y="116.2" width="1.2" height="14.5" fill="#f23645"/>
<rect x="482.27" y="116.2" width="4.6" height="8.5" fill="#f23645"/>
<rect x="489.24" y="116.1" width="1.2" height="18.5" fill="#f23645"/>
<rect x="487.54" y="123.9" width="4.6" height="9.5" fill="#f23645"/>
<rect x="494.52" y="116.6" width="1.2" height="19.6" fill="#089981"/>
<rect x="492.82" y="126.4" width="4.6" height="6.5" fill="#089981"/>
<rect x="499.79" y="92.1" width="1.2" height="42.5" fill="#089981"/>
<rect x="498.09" y="108.1" width="4.6" height="19.9" fill="#089981"/>
<rect x="505.07" y="80.6" width="1.2" height="29.9" fill="#089981"/>
<rect x="503.37" y="92.9" width="4.6" height="17.2" fill="#089981"/>
<rect x="510.34" y="89.3" width="1.2" height="24.5" fill="#f23645"/>
<rect x="508.64" y="93.2" width="4.6" height="5.4" fill="#f23645"/>
<rect x="515.62" y="83.1" width="1.2" height="19.6" fill="#f23645"/>
<rect x="513.92" y="97.6" width="4.6" height="1.2" fill="#f23645"/>
<rect x="520.89" y="84.4" width="1.2" height="22.9" fill="#089981"/>
<rect x="519.19" y="96.1" width="4.6" height="2.9" fill="#089981"/>
<rect x="526.17" y="74.9" width="1.2" height="27.0" fill="#089981"/>
<rect x="524.47" y="80.6" width="4.6" height="16.8" fill="#089981"/>
<rect x="531.44" y="80.6" width="1.2" height="42.5" fill="#f23645"/>
<rect x="529.74" y="80.6" width="4.6" height="25.6" fill="#f23645"/>
<rect x="536.72" y="92.1" width="1.2" height="21.7" fill="#089981"/>
<rect x="535.02" y="101.0" width="4.6" height="5.2" fill="#089981"/>
<rect x="541.99" y="101.0" width="1.2" height="15.0" fill="#f23645"/>
<rect x="540.29" y="101.0" width="4.6" height="14.7" fill="#f23645"/>
<rect x="547.27" y="113.3" width="1.2" height="18.8" fill="#f23645"/>
<rect x="545.57" y="114.9" width="4.6" height="16.8" fill="#f23645"/>
<rect x="552.54" y="124.7" width="1.2" height="33.8" fill="#089981"/>
<rect x="550.84" y="130.1" width="4.6" height="1.2" fill="#089981"/>
<rect x="557.82" y="107.2" width="1.2" height="26.5" fill="#089981"/>
<rect x="556.12" y="107.9" width="4.6" height="22.9" fill="#089981"/>
<rect x="563.09" y="104.8" width="1.2" height="22.7" fill="#f23645"/>
<rect x="561.39" y="107.9" width="4.6" height="11.9" fill="#f23645"/>
<rect x="568.37" y="116.1" width="1.2" height="14.7" fill="#f23645"/>
<rect x="566.67" y="118.2" width="4.6" height="10.3" fill="#f23645"/>
<rect x="573.64" y="116.2" width="1.2" height="26.5" fill="#f23645"/>
<rect x="571.94" y="127.2" width="4.6" height="9.8" fill="#f23645"/>
<rect x="578.92" y="130.0" width="1.2" height="23.7" fill="#089981"/>
<rect x="577.22" y="135.8" width="4.6" height="1.2" fill="#089981"/>
<rect x="584.20" y="133.1" width="1.2" height="14.6" fill="#f23645"/>
<rect x="582.50" y="136.0" width="4.6" height="6.2" fill="#f23645"/>
<rect x="589.47" y="140.9" width="1.2" height="16.4" fill="#f23645"/>
<rect x="587.77" y="140.9" width="4.6" height="15.8" fill="#f23645"/>
<rect x="594.75" y="134.2" width="1.2" height="22.6" fill="#089981"/>
<rect x="593.05" y="139.7" width="4.6" height="16.7" fill="#089981"/>
<rect x="600.02" y="127.6" width="1.2" height="14.6" fill="#089981"/>
<rect x="598.32" y="139.1" width="4.6" height="1.8" fill="#089981"/>
<rect x="605.30" y="134.2" width="1.2" height="34.6" fill="#f23645"/>
<rect x="603.60" y="139.7" width="4.6" height="29.1" fill="#f23645"/>
<rect x="610.57" y="163.3" width="1.2" height="7.3" fill="#089981"/>
<rect x="608.87" y="164.2" width="4.6" height="4.0" fill="#089981"/>
<rect x="615.85" y="163.3" width="1.2" height="16.4" fill="#f23645"/>
<rect x="614.15" y="163.7" width="4.6" height="10.9" fill="#f23645"/>
<rect x="621.12" y="165.9" width="1.2" height="25.5" fill="#f23645"/>
<rect x="619.42" y="173.7" width="4.6" height="17.3" fill="#f23645"/>
<rect x="626.40" y="170.1" width="1.2" height="25.5" fill="#089981"/>
<rect x="624.70" y="181.9" width="4.6" height="9.1" fill="#089981"/>
<rect x="631.67" y="168.2" width="1.2" height="45.5" fill="#f23645"/>
<rect x="629.97" y="181.9" width="4.6" height="26.4" fill="#f23645"/>
<rect x="636.95" y="203.4" width="1.2" height="32.2" fill="#089981"/>
<rect x="635.25" y="205.9" width="4.6" height="1.5" fill="#089981"/>
<rect x="642.22" y="189.2" width="1.2" height="23.7" fill="#089981"/>
<rect x="640.52" y="193.7" width="4.6" height="13.7" fill="#089981"/>
<rect x="647.50" y="193.2" width="1.2" height="37.3" fill="#f23645"/>
<rect x="645.80" y="193.7" width="4.6" height="36.8" fill="#f23645"/>
<rect x="652.77" y="224.1" width="1.2" height="16.4" fill="#f23645"/>
<rect x="651.07" y="230.1" width="4.6" height="9.1" fill="#f23645"/>
<rect x="658.05" y="233.2" width="1.2" height="25.5" fill="#f23645"/>
<rect x="656.35" y="238.0" width="4.6" height="20.4" fill="#f23645"/>
<rect x="663.32" y="237.1" width="1.2" height="21.7" fill="#089981"/>
<rect x="661.62" y="242.9" width="4.6" height="15.5" fill="#089981"/>
<rect x="668.60" y="228.9" width="1.2" height="16.4" fill="#089981"/>
<rect x="666.90" y="234.3" width="4.6" height="9.1" fill="#089981"/>
<rect x="673.87" y="221.0" width="1.2" height="14.6" fill="#089981"/>
<rect x="672.17" y="224.7" width="4.6" height="10.6" fill="#089981"/>
<rect x="679.15" y="221.0" width="1.2" height="14.0" fill="#089981"/>
<rect x="677.45" y="222.0" width="4.6" height="3.6" fill="#089981"/>
<rect x="684.42" y="216.5" width="1.2" height="10.9" fill="#089981"/>
<rect x="682.72" y="217.4" width="4.6" height="5.5" fill="#089981"/>
<rect x="689.70" y="216.9" width="1.2" height="8.4" fill="#f23645"/>
<rect x="688.00" y="217.4" width="4.6" height="7.3" fill="#f23645"/>
<rect x="694.97" y="223.8" width="1.2" height="10.9" fill="#f23645"/>
<rect x="693.27" y="224.1" width="4.6" height="1.5" fill="#f23645"/>
<rect x="700.25" y="224.7" width="1.2" height="12.7" fill="#f23645"/>
<rect x="698.55" y="225.0" width="4.6" height="10.9" fill="#f23645"/>
<rect x="705.52" y="225.2" width="1.2" height="11.3" fill="#089981"/>
<rect x="703.82" y="226.0" width="4.6" height="9.6" fill="#089981"/>
<rect x="710.80" y="217.6" width="1.2" height="12.7" fill="#089981"/>
<rect x="709.10" y="218.1" width="4.6" height="9.6" fill="#089981"/>
<rect x="716.08" y="217.2" width="1.2" height="6.1" fill="#f23645"/>
<rect x="714.38" y="217.6" width="4.6" height="1.2" fill="#f23645"/>
<rect x="721.35" y="199.9" width="1.2" height="19.9" fill="#089981"/>
<rect x="719.65" y="200.8" width="4.6" height="18.1" fill="#089981"/>
<rect x="726.63" y="201.0" width="1.2" height="17.9" fill="#f23645"/>
<rect x="724.93" y="201.0" width="4.6" height="17.9" fill="#f23645"/>
<rect x="731.90" y="212.2" width="1.2" height="9.6" fill="#f23645"/>
<rect x="730.20" y="218.1" width="4.6" height="3.5" fill="#f23645"/>
<rect x="737.18" y="211.3" width="1.2" height="10.5" fill="#089981"/>
<rect x="735.48" y="215.0" width="4.6" height="6.6" fill="#089981"/>
<rect x="742.45" y="203.6" width="1.2" height="12.4" fill="#089981"/>
<rect x="740.75" y="204.9" width="4.6" height="10.9" fill="#089981"/>
<rect x="747.73" y="201.9" width="1.2" height="9.2" fill="#f23645"/>
<rect x="746.03" y="205.7" width="4.6" height="1.2" fill="#f23645"/>
<rect x="753.00" y="201.0" width="1.2" height="6.6" fill="#089981"/>
<rect x="751.30" y="203.6" width="4.6" height="3.7" fill="#089981"/>
<rect x="758.28" y="195.9" width="1.2" height="9.6" fill="#089981"/>
<rect x="756.58" y="199.9" width="4.6" height="5.2" fill="#089981"/>
<rect x="763.55" y="190.3" width="1.2" height="10.7" fill="#089981"/>
<rect x="761.85" y="198.4" width="4.6" height="2.4" fill="#089981"/>
<rect x="768.83" y="194.0" width="1.2" height="11.8" fill="#089981"/>
<rect x="767.13" y="196.2" width="4.6" height="2.2" fill="#089981"/>
<rect x="774.10" y="192.1" width="1.2" height="19.0" fill="#f23645"/>
<rect x="772.40" y="195.8" width="4.6" height="15.1" fill="#f23645"/>
<rect x="779.38" y="209.3" width="1.2" height="8.8" fill="#f23645"/>
<rect x="777.68" y="209.8" width="4.6" height="8.1" fill="#f23645"/>
<rect x="784.65" y="210.6" width="1.2" height="7.2" fill="#f23645"/>
<rect x="782.95" y="216.9" width="4.6" height="1.2" fill="#f23645"/>
<rect x="789.93" y="210.6" width="1.2" height="7.2" fill="#089981"/>
<rect x="788.23" y="216.6" width="4.6" height="1.2" fill="#089981"/>
<rect x="795.20" y="201.9" width="1.2" height="15.1" fill="#089981"/>
<rect x="793.50" y="211.7" width="4.6" height="5.1" fill="#089981"/>
<rect x="800.48" y="210.6" width="1.2" height="3.5" fill="#f23645"/>
<rect x="798.78" y="211.4" width="4.6" height="1.2" fill="#f23645"/>
<rect x="805.75" y="212.2" width="1.2" height="11.1" fill="#f23645"/>
<rect x="804.05" y="212.2" width="4.6" height="7.6" fill="#f23645"/>
<rect x="811.03" y="215.0" width="1.2" height="11.8" fill="#f23645"/>
<rect x="809.33" y="218.9" width="4.6" height="3.1" fill="#f23645"/>
<rect x="816.30" y="220.9" width="1.2" height="11.1" fill="#f23645"/>
<rect x="814.60" y="221.1" width="4.6" height="10.7" fill="#f23645"/>
<rect x="821.58" y="218.1" width="1.2" height="16.6" fill="#089981"/>
<rect x="819.88" y="218.5" width="4.6" height="13.3" fill="#089981"/>
<rect x="826.85" y="217.2" width="1.2" height="5.7" fill="#f23645"/>
<rect x="825.15" y="217.8" width="4.6" height="4.6" fill="#f23645"/>
<rect x="832.13" y="220.2" width="1.2" height="11.8" fill="#f23645"/>
<rect x="830.43" y="220.7" width="4.6" height="11.1" fill="#f23645"/>
<rect x="837.40" y="219.2" width="1.2" height="12.9" fill="#089981"/>
<rect x="835.70" y="219.4" width="4.6" height="12.4" fill="#089981"/>
<rect x="842.68" y="210.6" width="1.2" height="10.1" fill="#089981"/>
<rect x="840.98" y="217.4" width="4.6" height="2.8" fill="#089981"/>
<rect x="847.96" y="210.1" width="1.2" height="12.6" fill="#089981"/>
<rect x="846.26" y="210.1" width="4.6" height="7.7" fill="#089981"/>
<rect x="853.23" y="210.1" width="1.2" height="15.4" fill="#f23645"/>
<rect x="851.53" y="210.1" width="4.6" height="13.7" fill="#f23645"/>
<rect x="858.51" y="218.0" width="1.2" height="24.0" fill="#089981"/>
<rect x="856.81" y="218.0" width="4.6" height="5.9" fill="#089981"/>
<rect x="863.78" y="217.1" width="1.2" height="13.9" fill="#f23645"/>
<rect x="862.08" y="218.4" width="4.6" height="12.6" fill="#f23645"/>
<rect x="869.06" y="218.6" width="1.2" height="12.4" fill="#089981"/>
<rect x="867.36" y="224.0" width="4.6" height="7.0" fill="#089981"/>
<rect x="874.33" y="214.0" width="1.2" height="10.9" fill="#089981"/>
<rect x="872.63" y="219.5" width="4.6" height="5.3" fill="#089981"/>
<rect x="879.61" y="214.8" width="1.2" height="6.8" fill="#f23645"/>
<rect x="877.91" y="219.5" width="4.6" height="2.0" fill="#f23645"/>
<rect x="884.88" y="218.6" width="1.2" height="13.4" fill="#f23645"/>
<rect x="883.18" y="220.1" width="4.6" height="11.7" fill="#f23645"/>
<rect x="890.16" y="224.0" width="1.2" height="9.8" fill="#089981"/>
<rect x="888.46" y="229.3" width="4.6" height="3.6" fill="#089981"/>
<rect x="895.43" y="227.2" width="1.2" height="22.6" fill="#f23645"/>
<rect x="893.73" y="229.0" width="4.6" height="15.4" fill="#f23645"/>
<rect x="900.71" y="222.9" width="1.2" height="25.0" fill="#089981"/>
<rect x="899.01" y="222.9" width="4.6" height="20.9" fill="#089981"/>
<rect x="905.98" y="221.0" width="1.2" height="9.5" fill="#f23645"/>
<rect x="904.28" y="222.9" width="4.6" height="7.3" fill="#f23645"/>
<rect x="911.26" y="229.0" width="1.2" height="13.7" fill="#f23645"/>
<rect x="909.56" y="229.1" width="4.6" height="3.6" fill="#f23645"/>
<rect x="916.53" y="231.0" width="1.2" height="13.6" fill="#f23645"/>
<rect x="914.83" y="231.8" width="4.6" height="12.6" fill="#f23645"/>
<rect x="921.81" y="235.9" width="1.2" height="12.1" fill="#089981"/>
<rect x="920.11" y="238.0" width="4.6" height="6.2" fill="#089981"/>
<rect x="927.08" y="229.0" width="1.2" height="22.4" fill="#089981"/>
<rect x="925.38" y="229.1" width="4.6" height="9.8" fill="#089981"/>
<rect x="932.36" y="229.1" width="1.2" height="22.0" fill="#f23645"/>
<rect x="930.66" y="229.1" width="4.6" height="21.5" fill="#f23645"/>
<rect x="937.63" y="239.9" width="1.2" height="69.0" fill="#f23645"/>
<rect x="935.93" y="250.1" width="4.6" height="52.0" fill="#f23645"/>
<rect x="942.91" y="280.1" width="1.2" height="31.7" fill="#f23645"/>
<rect x="941.21" y="303.0" width="4.6" height="8.1" fill="#f23645"/>
<rect x="948.18" y="289.1" width="1.2" height="28.8" fill="#f23645"/>
<rect x="946.48" y="311.1" width="4.6" height="5.4" fill="#f23645"/>
<rect x="953.46" y="285.7" width="1.2" height="31.2" fill="#089981"/>
<rect x="951.76" y="286.0" width="4.6" height="30.5" fill="#089981"/>
<rect x="958.73" y="286.0" width="1.2" height="17.8" fill="#f23645"/>
<rect x="957.03" y="286.9" width="4.6" height="15.8" fill="#f23645"/>
<rect x="964.01" y="294.2" width="1.2" height="56.6" fill="#f23645"/>
<rect x="962.31" y="302.1" width="4.6" height="48.3" fill="#f23645"/>
<rect x="969.28" y="347.0" width="1.2" height="117.0" fill="#f23645"/>
<rect x="967.58" y="347.0" width="4.6" height="57.7" fill="#f23645"/>
<rect x="974.56" y="392.4" width="1.2" height="33.8" fill="#f23645"/>
<rect x="972.86" y="404.2" width="4.6" height="21.6" fill="#f23645"/>
<rect x="979.84" y="406.0" width="1.2" height="21.6" fill="#089981"/>
<rect x="978.14" y="416.5" width="4.6" height="8.8" fill="#089981"/>
<rect x="985.11" y="413.5" width="1.2" height="32.0" fill="#f23645"/>
<rect x="983.41" y="416.0" width="4.6" height="20.8" fill="#f23645"/>
<rect x="990.39" y="403.3" width="1.2" height="37.8" fill="#089981"/>
<rect x="988.69" y="406.5" width="4.6" height="29.4" fill="#089981"/>
<rect x="995.66" y="395.4" width="1.2" height="18.1" fill="#089981"/>
<rect x="993.96" y="400.7" width="4.6" height="7.0" fill="#089981"/>
<rect x="1000.94" y="399.8" width="1.2" height="24.6" fill="#f23645"/>
<rect x="999.24" y="400.7" width="4.6" height="9.7" fill="#f23645"/>
<rect x="1006.21" y="381.9" width="1.2" height="50.5" fill="#089981"/>
<rect x="1004.51" y="382.2" width="4.6" height="28.1" fill="#089981"/>
<rect x="1011.49" y="364.3" width="1.2" height="43.4" fill="#f23645"/>
<rect x="1009.79" y="383.1" width="4.6" height="14.6" fill="#f23645"/>
<rect x="1016.76" y="390.1" width="1.2" height="30.8" fill="#f23645"/>
<rect x="1015.06" y="397.2" width="4.6" height="7.6" fill="#f23645"/>
<rect x="1022.04" y="399.8" width="1.2" height="20.2" fill="#f23645"/>
<rect x="1020.34" y="404.2" width="4.6" height="15.8" fill="#f23645"/>
<rect x="1027.31" y="417.4" width="1.2" height="24.3" fill="#f23645"/>
<rect x="1025.61" y="418.8" width="4.6" height="14.1" fill="#f23645"/>
<rect x="1032.59" y="404.2" width="1.2" height="31.7" fill="#089981"/>
<rect x="1030.89" y="429.3" width="4.6" height="4.2" fill="#089981"/>
<rect x="1037.86" y="419.1" width="1.2" height="42.6" fill="#f23645"/>
<rect x="1036.16" y="429.3" width="4.6" height="23.2" fill="#f23645"/>
<rect x="1043.14" y="395.4" width="1.2" height="64.2" fill="#089981"/>
<rect x="1041.44" y="407.2" width="4.6" height="43.6" fill="#089981"/>
<rect x="1048.41" y="394.2" width="1.2" height="24.6" fill="#089981"/>
<rect x="1046.71" y="394.2" width="4.6" height="14.4" fill="#089981"/>
<rect x="1053.69" y="394.2" width="1.2" height="24.6" fill="#f23645"/>
<rect x="1051.99" y="394.2" width="4.6" height="22.9" fill="#f23645"/>
<rect x="1058.96" y="409.5" width="1.2" height="9.7" fill="#f23645"/>
<rect x="1057.26" y="414.2" width="4.6" height="1.8" fill="#f23645"/>
<rect x="1064.24" y="403.0" width="1.2" height="29.4" fill="#f23645"/>
<rect x="1062.54" y="414.2" width="4.6" height="18.1" fill="#f23645"/>
<rect x="1069.51" y="424.4" width="1.2" height="23.2" fill="#f23645"/>
<rect x="1067.81" y="431.1" width="4.6" height="16.5" fill="#f23645"/>
<rect x="1074.79" y="425.3" width="1.2" height="52.8" fill="#f23645"/>
<rect x="1073.09" y="446.1" width="4.6" height="22.3" fill="#f23645"/>
<rect x="1080.06" y="428.8" width="1.2" height="51.2" fill="#089981"/>
<rect x="1078.36" y="435.3" width="4.6" height="34.5" fill="#089981"/>
<rect x="1085.34" y="427.1" width="1.2" height="37.8" fill="#089981"/>
<rect x="1083.64" y="427.9" width="4.6" height="7.9" fill="#089981"/>
<rect x="1090.61" y="400.2" width="1.2" height="30.4" fill="#089981"/>
<rect x="1088.91" y="414.2" width="4.6" height="15.8" fill="#089981"/>
<rect x="1095.89" y="386.1" width="1.2" height="32.2" fill="#089981"/>
<rect x="1094.19" y="396.3" width="4.6" height="19.7" fill="#089981"/>
<rect x="1101.16" y="386.6" width="1.2" height="14.5" fill="#089981"/>
<rect x="1099.46" y="387.9" width="4.6" height="8.5" fill="#089981"/>
<rect x="1106.44" y="383.2" width="1.2" height="14.7" fill="#089981"/>
<rect x="1104.74" y="384.7" width="4.6" height="3.8" fill="#089981"/>
<rect x="1111.72" y="376.0" width="1.2" height="24.5" fill="#f23645"/>
<rect x="1110.02" y="385.5" width="4.6" height="13.8" fill="#f23645"/>
<rect x="1116.99" y="393.6" width="1.2" height="11.3" fill="#089981"/>
<rect x="1115.29" y="396.0" width="4.6" height="2.6" fill="#089981"/>
<rect x="1122.27" y="387.9" width="1.2" height="25.8" fill="#089981"/>
<rect x="1120.57" y="394.1" width="4.6" height="2.3" fill="#089981"/>
<rect x="1127.54" y="391.1" width="1.2" height="13.8" fill="#f23645"/>
<rect x="1125.84" y="394.1" width="4.6" height="3.2" fill="#f23645"/>
<rect x="1132.82" y="391.7" width="1.2" height="19.4" fill="#089981"/>
<rect x="1131.12" y="397.0" width="4.6" height="1.2" fill="#089981"/>
<rect x="1138.09" y="375.3" width="1.2" height="47.5" fill="#f23645"/>
<rect x="1136.39" y="396.8" width="4.6" height="21.3" fill="#f23645"/>
<rect x="1143.37" y="388.8" width="1.2" height="37.7" fill="#089981"/>
<rect x="1141.67" y="401.1" width="4.6" height="17.0" fill="#089981"/>
<rect x="1148.64" y="396.8" width="1.2" height="32.0" fill="#f23645"/>
<rect x="1146.94" y="401.1" width="4.6" height="5.7" fill="#f23645"/>
<rect x="1153.92" y="405.4" width="1.2" height="62.9" fill="#f23645"/>
<rect x="1152.22" y="406.2" width="4.6" height="58.4" fill="#f23645"/>
<rect x="1159.19" y="447.6" width="1.2" height="33.9" fill="#f23645"/>
<rect x="1157.49" y="462.7" width="4.6" height="13.2" fill="#f23645"/>
<rect x="1164.47" y="463.3" width="1.2" height="26.9" fill="#f23645"/>
<rect x="1162.77" y="475.1" width="4.6" height="9.8" fill="#f23645"/>
<rect x="1169.74" y="463.3" width="1.2" height="34.5" fill="#089981"/>
<rect x="1168.04" y="463.8" width="4.6" height="21.1" fill="#089981"/>
<rect x="1175.02" y="449.1" width="1.2" height="19.8" fill="#089981"/>
<rect x="1173.32" y="450.1" width="4.6" height="12.2" fill="#089981"/>
<rect x="1180.29" y="446.3" width="1.2" height="14.5" fill="#089981"/>
<rect x="1178.59" y="450.1" width="4.6" height="1.9" fill="#089981"/>
<rect x="1185.57" y="445.4" width="1.2" height="23.6" fill="#f23645"/>
<rect x="1183.87" y="450.6" width="4.6" height="11.7" fill="#f23645"/>
<rect x="1190.84" y="436.3" width="1.2" height="36.4" fill="#089981"/>
<rect x="1189.14" y="446.3" width="4.6" height="16.0" fill="#089981"/>
<rect x="1196.12" y="427.5" width="1.2" height="24.5" fill="#089981"/>
<rect x="1194.42" y="432.2" width="4.6" height="15.1" fill="#089981"/>
<rect x="1201.39" y="428.8" width="1.2" height="39.6" fill="#f23645"/>
<rect x="1199.69" y="432.2" width="4.6" height="21.7" fill="#f23645"/>
<rect x="1206.67" y="446.9" width="1.2" height="35.2" fill="#f23645"/>
<rect x="1204.97" y="452.9" width="4.6" height="29.2" fill="#f23645"/>
<rect x="1211.94" y="436.9" width="1.2" height="82.2" fill="#089981"/>
<rect x="1210.24" y="450.1" width="4.6" height="32.0" fill="#089981"/>
<rect x="1217.22" y="417.1" width="1.2" height="35.4" fill="#089981"/>
<rect x="1215.52" y="419.9" width="4.6" height="32.0" fill="#089981"/>
<rect x="1222.49" y="409.9" width="1.2" height="16.2" fill="#f23645"/>
<rect x="1220.79" y="419.4" width="4.6" height="4.3" fill="#f23645"/>
<rect x="1227.77" y="413.0" width="1.2" height="18.3" fill="#f23645"/>
<rect x="1226.07" y="422.6" width="4.6" height="1.2" fill="#f23645"/>
<rect x="1233.04" y="420.2" width="1.2" height="15.1" fill="#089981"/>
<rect x="1231.34" y="420.5" width="4.6" height="3.0" fill="#089981"/>
<rect x="1238.32" y="408.1" width="1.2" height="21.1" fill="#089981"/>
<rect x="1236.62" y="413.7" width="4.6" height="8.3" fill="#089981"/>
<rect x="1243.60" y="399.3" width="1.2" height="18.4" fill="#089981"/>
<rect x="1241.90" y="400.1" width="4.6" height="14.0" fill="#089981"/>
<rect x="1248.87" y="385.0" width="1.2" height="19.1" fill="#089981"/>
<rect x="1247.17" y="393.6" width="4.6" height="7.2" fill="#089981"/>
<rect x="1254.15" y="388.8" width="1.2" height="11.3" fill="#089981"/>
<rect x="1252.45" y="391.8" width="4.6" height="3.8" fill="#089981"/>
<rect x="1259.42" y="381.0" width="1.2" height="27.1" fill="#f23645"/>
<rect x="1257.72" y="391.8" width="4.6" height="16.3" fill="#f23645"/>
<rect x="1264.70" y="336.8" width="1.2" height="70.4" fill="#089981"/>
<rect x="1263.00" y="348.1" width="4.6" height="59.1" fill="#089981"/>
<rect x="1269.97" y="336.8" width="1.2" height="41.2" fill="#f23645"/>
<rect x="1268.27" y="348.1" width="4.6" height="25.9" fill="#f23645"/>
<rect x="1275.25" y="346.3" width="1.2" height="39.8" fill="#089981"/>
<rect x="1273.55" y="346.6" width="4.6" height="26.4" fill="#089981"/>
<rect x="1280.52" y="332.7" width="1.2" height="22.2" fill="#089981"/>
<rect x="1278.82" y="345.8" width="4.6" height="3.0" fill="#089981"/>
<rect x="1285.80" y="340.6" width="1.2" height="21.4" fill="#f23645"/>
<rect x="1284.10" y="345.1" width="4.6" height="8.7" fill="#f23645"/>
<rect x="1291.07" y="349.9" width="1.2" height="26.1" fill="#f23645"/>
<rect x="1289.37" y="352.6" width="4.6" height="15.4" fill="#f23645"/>
<rect x="1296.35" y="354.9" width="1.2" height="14.0" fill="#089981"/>
<rect x="1294.65" y="362.0" width="4.6" height="6.5" fill="#089981"/>
<rect x="1301.62" y="356.4" width="1.2" height="18.8" fill="#f23645"/>
<rect x="1299.92" y="362.0" width="4.6" height="12.1" fill="#f23645"/>
<rect x="1306.90" y="352.9" width="1.2" height="26.1" fill="#f23645"/>
<rect x="1305.20" y="371.5" width="4.6" height="2.6" fill="#f23645"/>
<rect x="1312.17" y="366.9" width="1.2" height="15.5" fill="#f23645"/>
<rect x="1310.47" y="373.4" width="4.6" height="3.3" fill="#f23645"/>
<rect x="1317.45" y="362.9" width="1.2" height="34.2" fill="#f23645"/>
<rect x="1315.75" y="374.9" width="4.6" height="16.9" fill="#f23645"/>
<rect x="1322.72" y="372.2" width="1.2" height="59.5" fill="#f23645"/>
<rect x="1321.02" y="391.1" width="4.6" height="28.6" fill="#f23645"/>
<rect x="1328.00" y="384.6" width="1.2" height="42.2" fill="#089981"/>
<rect x="1326.30" y="402.1" width="4.6" height="16.9" fill="#089981"/>
<rect x="1333.27" y="403.1" width="1.2" height="44.2" fill="#f23645"/>
<rect x="1331.57" y="403.1" width="4.6" height="22.2" fill="#f23645"/>
<rect x="1338.55" y="422.5" width="1.2" height="65.6" fill="#f23645"/>
<rect x="1336.85" y="425.8" width="4.6" height="54.3" fill="#f23645"/>
<rect x="1343.82" y="459.4" width="1.2" height="29.6" fill="#089981"/>
<rect x="1342.12" y="478.5" width="4.6" height="2.0" fill="#089981"/>
<rect x="1349.10" y="470.8" width="1.2" height="22.1" fill="#f23645"/>
<rect x="1347.40" y="478.9" width="4.6" height="13.7" fill="#f23645"/>
<rect x="1354.37" y="469.4" width="1.2" height="27.2" fill="#089981"/>
<rect x="1352.67" y="477.1" width="4.6" height="15.9" fill="#089981"/>
<rect x="1359.65" y="459.4" width="1.2" height="21.5" fill="#f23645"/>
<rect x="1357.95" y="477.0" width="4.6" height="1.2" fill="#f23645"/>
<rect x="1364.92" y="445.3" width="1.2" height="43.7" fill="#f23645"/>
<rect x="1363.22" y="477.1" width="4.6" height="11.5" fill="#f23645"/>
<rect x="1370.20" y="470.0" width="1.2" height="21.5" fill="#089981"/>
<rect x="1368.50" y="484.5" width="4.6" height="5.0" fill="#089981"/>
<rect x="1375.48" y="478.9" width="1.2" height="27.8" fill="#f23645"/>
<rect x="1373.78" y="482.9" width="4.6" height="22.1" fill="#f23645"/>
<rect x="1380.75" y="482.1" width="1.2" height="43.7" fill="#f23645"/>
<rect x="1379.05" y="503.6" width="4.6" height="15.5" fill="#f23645"/>
<rect x="1386.03" y="479.5" width="1.2" height="70.4" fill="#f23645"/>
<rect x="1384.33" y="519.1" width="4.6" height="8.0" fill="#f23645"/>
<rect x="1391.30" y="478.1" width="1.2" height="49.7" fill="#089981"/>
<rect x="1389.60" y="488.9" width="4.6" height="38.2" fill="#089981"/>
<rect x="1396.58" y="485.5" width="1.2" height="48.3" fill="#089981"/>
<rect x="1394.88" y="485.5" width="4.6" height="5.0" fill="#089981"/>
<rect x="1401.85" y="479.5" width="1.2" height="51.3" fill="#f23645"/>
<rect x="1400.15" y="484.9" width="4.6" height="44.3" fill="#f23645"/>
<rect x="1407.13" y="527.0" width="1.2" height="140.8" fill="#f23645"/>
<rect x="1405.43" y="527.6" width="4.6" height="138.8" fill="#f23645"/>
<rect x="1412.40" y="602.9" width="1.2" height="65.0" fill="#089981"/>
<rect x="1410.70" y="606.1" width="4.6" height="60.8" fill="#089981"/>
<rect x="1417.68" y="593.4" width="1.2" height="42.3" fill="#f23645"/>
<rect x="1415.98" y="606.9" width="4.6" height="26.2" fill="#f23645"/>
<rect x="1422.95" y="623.6" width="1.2" height="27.2" fill="#f23645"/>
<rect x="1421.25" y="631.7" width="4.6" height="13.5" fill="#f23645"/>
<rect x="1428.23" y="611.5" width="1.2" height="38.2" fill="#089981"/>
<rect x="1426.53" y="628.2" width="4.6" height="16.5" fill="#089981"/>
<rect x="1433.50" y="614.2" width="1.2" height="22.9" fill="#089981"/>
<rect x="1431.80" y="627.6" width="4.6" height="4.0" fill="#089981"/>
<rect x="1438.78" y="610.5" width="1.2" height="59.4" fill="#f23645"/>
<rect x="1437.08" y="626.2" width="4.6" height="31.0" fill="#f23645"/>
<rect x="1444.05" y="615.0" width="1.2" height="51.9" fill="#089981"/>
<rect x="1442.35" y="623.0" width="4.6" height="34.2" fill="#089981"/>
<rect x="1449.33" y="604.1" width="1.2" height="30.6" fill="#089981"/>
<rect x="1447.63" y="609.5" width="4.6" height="15.5" fill="#089981"/>
<rect x="1454.60" y="601.5" width="1.2" height="21.5" fill="#f23645"/>
<rect x="1452.90" y="609.5" width="4.6" height="5.4" fill="#f23645"/>
<rect x="1459.88" y="613.0" width="1.2" height="22.7" fill="#f23645"/>
<rect x="1458.18" y="613.6" width="4.6" height="4.0" fill="#f23645"/>
<rect x="1465.15" y="613.6" width="1.2" height="25.2" fill="#f23645"/>
<rect x="1463.45" y="615.6" width="4.6" height="18.1" fill="#f23645"/>
<rect x="1470.43" y="616.2" width="1.2" height="32.6" fill="#f23645"/>
<rect x="1468.73" y="632.7" width="4.6" height="6.0" fill="#f23645"/>
<rect x="1475.70" y="613.0" width="1.2" height="39.8" fill="#089981"/>
<rect x="1474.00" y="630.3" width="4.6" height="8.5" fill="#089981"/>
<rect x="1480.98" y="615.0" width="1.2" height="42.3" fill="#f23645"/>
<rect x="1479.28" y="630.3" width="4.6" height="2.4" fill="#f23645"/>
<rect x="1486.25" y="615.0" width="1.2" height="17.3" fill="#089981"/>
<rect x="1484.55" y="619.6" width="4.6" height="12.1" fill="#089981"/>
</svg>
<!-- borders -->
<div class="abs" style="left:0;top:0;width:1600px;height:2px;background:#2a2a2a"></div>
<div class="abs" style="left:0;top:0;width:1.3px;height:796px;background:#2a2a2a"></div>
<div class="abs" style="left:1596px;top:0;width:4px;height:796px;background:#2a2a2a"></div>
<div class="abs" style="left:0;top:764px;width:1596px;height:2px;background:#2a2a2a"></div>
<!-- price axis bg -->
<div class="abs" style="left:1542px;top:2px;width:54px;height:762px;background:#111111"></div>
<!-- time axis bg -->
<div class="abs" style="left:1px;top:740px;width:1541px;height:24px;background:#111111"></div>
<!-- bottom toolbar bg -->
<div class="abs" style="left:1.3px;top:766px;width:1594.7px;height:30px;background:#111111"></div>

<div class="pl" style="top:33.5px">118,500</div>
<div class="pl" style="top:65.9px">118,000</div>
<div class="pl" style="top:98.3px">117,500</div>
<div class="pl" style="top:130.7px">117,000</div>
<div class="pl" style="top:163.2px">116,500</div>
<div class="pl" style="top:195.6px">116,000</div>
<div class="pl" style="top:228.0px">115,500</div>
<div class="pl" style="top:260.4px">115,000</div>
<div class="pl" style="top:292.8px">114,500</div>
<div class="pl" style="top:325.2px">114,000</div>
<div class="pl" style="top:357.6px">113,500</div>
<div class="pl" style="top:390.0px">113,000</div>
<div class="pl" style="top:422.4px">112,500</div>
<div class="pl" style="top:454.8px">112,000</div>
<div class="pl" style="top:487.2px">111,500</div>
<div class="pl" style="top:519.7px">111,000</div>
<div class="pl" style="top:552.1px">110,500</div>
<div class="pl" style="top:584.5px">110,000</div>
<div class="pl" style="top:649.3px">109,000</div>
<div class="pl" style="top:681.7px">108,500</div>
<div class="pl" style="top:714.1px">108,000</div>
<div class="tl" style="left:37.6px">15</div>
<div class="tl" style="left:164.1px">16</div>
<div class="tl" style="left:290.6px">17</div>
<div class="tl" style="left:417.2px">18</div>
<div class="tl" style="left:543.7px">19</div>
<div class="tl" style="left:670.2px">20</div>
<div class="tl" style="left:796.7px">21</div>
<div class="tl" style="left:923.2px">22</div>
<div class="tl" style="left:1049.8px">23</div>
<div class="tl" style="left:1176.3px">24</div>
<div class="tl" style="left:1302.8px">25</div>
<div class="tl" style="left:1429.3px">26</div>

<!-- header -->
<svg class="abs" style="left:8px;top:7px" width="18" height="18" viewBox="0 0 18 18">
<circle cx="8.6" cy="9" r="8.3" fill="#f7931a"/>
<text x="8.8" y="13.2" font-family="Liberation Sans" font-weight="bold" font-size="11" fill="#fff" text-anchor="middle" transform="rotate(14 8.8 9)">₿</text>
</svg>
<div id="title">Bitcoin / U.S. Dollar · 1h · Bitstamp</div>
<svg class="abs" style="left:254px;top:8px" width="16" height="16"><circle cx="8" cy="8" r="8" fill="#0f2a25"/><circle cx="8" cy="8" r="3.8" fill="#089981"/></svg>
<div class="o" style="left:276.5px">O</div><div class="o v" style="left:286.5px">109,406</div>
<div class="o" style="left:330.5px">H</div><div class="o v" style="left:340.3px">109,645</div>
<div class="o" style="left:384.3px">L</div><div class="o v" style="left:391.9px">109,389</div>
<div class="o" style="left:436.3px">C</div><div class="o v" style="left:445.4px">109,570</div>
<div class="o v" style="left:490.5px">+177</div><div class="o v" style="left:517.7px">(+0.16%)</div>

<!-- sell/buy -->
<div class="abs" style="left:8px;top:30px;width:59px;height:28px;border:1px solid #f23645;border-radius:5px;"></div>
<div class="abs" style="left:8px;top:32px;width:61px;text-align:center;font-size:11px;line-height:12px;color:#f23645;font-weight:bold;">109,569</div>
<div class="abs" style="left:8px;top:46px;width:61px;text-align:center;font-size:10px;line-height:12px;color:#f23645;font-weight:bold;letter-spacing:-0.5px;">SELL</div>
<div class="abs" style="left:74.5px;top:39.3px;font-size:10px;line-height:12px;color:#dbdbdb;font-weight:bold;">1</div>
<div class="abs" style="left:87px;top:30px;width:58px;height:28px;border:1px solid #2962ff;border-radius:5px;"></div>
<div class="abs" style="left:87px;top:32px;width:60px;text-align:center;font-size:11px;line-height:12px;color:#2962ff;font-weight:bold;">109,570</div>
<div class="abs" style="left:87px;top:46px;width:60px;text-align:center;font-size:10px;line-height:12px;color:#2962ff;font-weight:bold;letter-spacing:-0.5px;">BUY</div>

<!-- vol legend -->
<div class="abs" style="left:8px;top:67px;font-size:11px;line-height:14px;color:#dbdbdb;white-space:nowrap;-webkit-text-stroke:0.3px #dbdbdb;">Vol · BTC</div>
<div class="abs" style="left:61.5px;top:67px;font-size:11px;line-height:14px;color:#22ab94;white-space:nowrap;-webkit-text-stroke:0.3px #22ab94;">46</div>
<div class="abs" style="left:8px;top:87px;width:25.5px;height:18px;border:1px solid #3a3a3a;border-radius:3px;box-sizing:border-box"></div>
<svg class="abs" style="left:14px;top:90.8px" width="14" height="12"><path d="M3.5 7.5 L7 4 L10.5 7.5" fill="none" stroke="#dbdbdb" stroke-width="1.4"/></svg>

<!-- USD -->
<div class="abs" style="left:1545.3px;top:5.5px;width:47.3px;height:22.2px;border:1px solid #3a3a3a;border-radius:4px;box-sizing:border-box"></div>
<div class="abs" style="left:1548.8px;top:10px;font-size:10.3px;line-height:12px;color:#dbdbdb;font-weight:bold;letter-spacing:-0.6px;transform:scaleY(1.12);transform-origin:0 9.5px;">USD</div>
<svg class="abs" style="left:1582.5px;top:14px" width="8" height="6"><path d="M1 1 L3.7 3.7 L6.4 1" fill="none" stroke="#dbdbdb" stroke-width="1.4"/></svg>

<!-- price label -->
<div class="abs" style="left:1543px;top:613px;width:49px;height:28px;background:#089981;border-radius:0 2px 2px 0"></div>
<div class="abs" style="left:1550px;top:614px;font-size:10.5px;line-height:12px;color:#fff;-webkit-text-stroke:0.25px #fff;">109,570</div>
<div class="abs" style="left:1550px;top:626px;font-size:10.5px;line-height:12px;color:#e6f5f2;-webkit-text-stroke:0.25px #e6f5f2;">25:43</div>
<!-- vol label -->
<div class="abs" style="left:1543px;top:711px;width:23px;height:15px;background:#22ab94;border-radius:0 2px 2px 0"></div>
<div class="abs" style="left:1543px;top:712px;width:23px;text-align:center;font-size:10.5px;line-height:13px;color:#fff;-webkit-text-stroke:0.25px #fff;">46</div>

<!-- TV logo -->
<svg class="abs" style="left:9px;top:711px" width="32" height="22" viewBox="0 0 32 22">
<g fill="#e8e8e8" stroke="#111" stroke-width="1.3" paint-order="stroke">
<path d="M2 3 H13 V16.8 H7.5 V9 H2 Z"/>
<circle cx="17.5" cy="5.5" r="2.75"/>
<path d="M23.25 3 H29 L23 16.8 H16.25 Z"/>
</g></svg>
<div class="abs" style="left:43.3px;top:711px;font-size:18.3px;line-height:22px;font-weight:bold;color:#e8e8e8;transform:scaleY(1.04);transform-origin:0 17.34px;text-shadow:0 0 1.5px #111,0 0 1.5px #111,0 0 2px #111,0 0 2px #111;">TradingView</div>

<!-- icons bottom right of chart -->
<svg class="abs" style="left:1465px;top:710px" width="55" height="30" viewBox="0 0 55 30">
<circle cx="22.5" cy="18.700000000000045" r="8.3" fill="#111" stroke="#a23fc6" stroke-width="1.7"/>
<path d="M25.40 13.90 L18.40 19.20 L22.20 19.20 L19.30 24.20 L26.40 18.30 L22.60 18.30 L25.90 14.30 Z" fill="#a23fc6"/>
<path d="M12.70 16.90 L14.11 20.39 L17.60 21.80 L14.11 23.21 L12.70 26.70 L11.29 23.21 L7.80 21.80 L11.29 20.39 Z" fill="#7c4dff" stroke="#111" stroke-width="0.6" paint-order="stroke"/>
<circle cx="42.90000000000009" cy="18.10" r="9.1" fill="#111" stroke="#e0283a" stroke-width="1.6"/>
<clipPath id="fc"><circle cx="42.90000000000009" cy="18.10" r="7.3"/></clipPath>
<g clip-path="url(#fc)">
<rect x="34" y="9" width="18" height="18" fill="#fff"/>
<rect x="34" y="9" width="18" height="4.1" fill="#f0363f"/>
<rect x="34" y="16.200000000000045" width="18" height="3.3" fill="#f0363f"/>
<rect x="34" y="22.200000000000045" width="18" height="5" fill="#f04a4a"/>
<rect x="34" y="9" width="10.299999999999955" height="10.700000000000045" fill="#2f7de1"/>
<circle cx="36.60" cy="12.60" r="0.45" fill="#fff"/><circle cx="38.60" cy="12.60" r="0.45" fill="#fff"/><circle cx="40.60" cy="12.60" r="0.45" fill="#fff"/><circle cx="42.60" cy="12.60" r="0.45" fill="#fff"/><circle cx="36.60" cy="15.10" r="0.45" fill="#fff"/><circle cx="38.60" cy="15.10" r="0.45" fill="#fff"/><circle cx="40.60" cy="15.10" r="0.45" fill="#fff"/><circle cx="42.60" cy="15.10" r="0.45" fill="#fff"/><circle cx="36.60" cy="17.60" r="0.45" fill="#fff"/><circle cx="38.60" cy="17.60" r="0.45" fill="#fff"/><circle cx="40.60" cy="17.60" r="0.45" fill="#fff"/><circle cx="42.60" cy="17.60" r="0.45" fill="#fff"/>
</g></svg>

<!-- settings -->
<svg class="abs" style="left:1562px;top:744.5px" width="16" height="16" viewBox="0 0 16 16">
<path d="M4.5 2.3 H11.5 L14.4 8 L11.5 13.7 H4.5 L1.6 8 Z" fill="none" stroke="#c3c3c3" stroke-width="1.15"/>
<circle cx="8" cy="8" r="1.8" fill="none" stroke="#c3c3c3" stroke-width="1.1"/>
</svg>

<!-- bottom toolbar -->
<div class="tb" style="left:13px">1D</div>
<div class="tb" style="left:37px">5D</div>
<div class="tb" style="left:62px">1M</div>
<div class="tb" style="left:88px">3M</div>
<div class="tb" style="left:113px">6M</div>
<div class="tb" style="left:139px">YTD</div>
<div class="tb" style="left:171px">1Y</div>
<div class="tb" style="left:195px">5Y</div>
<div class="tb" style="left:219px">All</div>
<div class="abs" style="left:243px;top:770px;width:1px;height:21px;background:#2e2e2e"></div>
<svg class="abs" style="left:254px;top:772px" width="20" height="18" viewBox="0 0 20 18">
<g fill="none" stroke="#d1d1d1" stroke-width="1.2">
<path d="M4 9 V3.5 H18 V16.5 H8"/>
<path d="M4 6.5 H18"/>
<path d="M8 1.5 V4.5 M14 1.5 V4.5"/>
<path d="M1.5 13 H7 M5 11 L7 13 L5 15"/>
</g></svg>
<div class="tb" style="left:1513.5px;font-size:12.1px">08:34:16 UTC</div>
</body></html>
